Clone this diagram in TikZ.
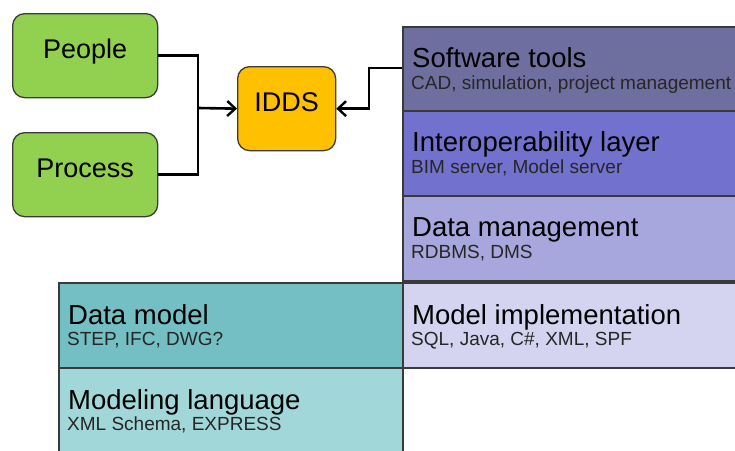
\documentclass[tikz,border=0pt]{standalone}
\usepackage{fontspec}
\setmainfont{Liberation Sans}
\usetikzlibrary{arrows.meta,calc}

\definecolor{greenbox}{HTML}{92D050}
\definecolor{orangebox}{HTML}{FFC000}
\definecolor{edge}{HTML}{3A3A3A}
\definecolor{toolsfill}{HTML}{6F6F9F}
\definecolor{interopfill}{HTML}{7272CE}
\definecolor{datamgmtfill}{HTML}{A7A7DE}
\definecolor{implfill}{HTML}{D4D4F1}
\definecolor{datamodelfill}{HTML}{73BFC4}
\definecolor{langfill}{HTML}{A2D7D9}

\tikzset{
  rbox/.style={draw=edge, line width=1.3pt, rounded corners=12pt,
    minimum width=145pt, minimum height=84pt, anchor=north west,
    inner sep=0pt, text height=19pt, text depth=14pt,
    font=\fontsize{27}{30}\selectfont},
  layer/.style={draw=edge, line width=1.6pt, anchor=north west,
    inner sep=0pt, minimum height=85pt},
  title/.style={anchor=base west, inner sep=0pt, font=\fontsize{27.5}{30}\selectfont},
  sub/.style={anchor=base west, inner sep=0pt, text=black!85, font=\fontsize{19}{22}\selectfont},
  conn/.style={line width=2.6pt, black},
  arr/.style={conn, -{Straight Barb[length=8pt,width=15pt,line width=2.4pt]}}
}

\begin{document}
\begin{tikzpicture}[x=1pt,y=-1pt]
  \useasboundingbox (0,0) rectangle (735,450);
  \clip (0,0) rectangle (735,450);

  % input boxes and the central system
  \node[rbox, fill=greenbox] (people) at (12,13) {People};
  \node[rbox, fill=greenbox] (process) at (12,132) {Process};
  \node[rbox, fill=orangebox, minimum width=98pt] (idds) at (237,66) {IDDS};

  % layer stack on the right
  \node[layer, fill=toolsfill, minimum width=345pt] (tools) at (402,26) {};
  \node[layer, fill=interopfill, minimum width=345pt] (interop) at (402,110) {};
  \node[layer, fill=datamgmtfill, minimum width=345pt] (datamgmt) at (402,195) {};
  \node[layer, fill=implfill, minimum width=345pt] (impl) at (402,282) {};

  % layer stack on the left
  \node[layer, fill=datamodelfill, minimum width=344pt] (datamodel) at (58,282) {};
  \node[layer, fill=langfill, minimum width=344pt, minimum height=95pt] (lang) at (58,367) {};

  % layer captions
  \node[title] (t1) at ($(tools.north west)+(10,41)$) {Software tools};
  \node[sub]   (s1) at ($(tools.north west)+(9,63)$) {CAD, simulation, project management};
  \node[title] (t2) at ($(interop.north west)+(10,41)$) {Interoperability layer};
  \node[sub]   (s2) at ($(interop.north west)+(9,63)$) {BIM server, Model server};
  \node[title] (t3) at ($(datamgmt.north west)+(10,41)$) {Data management};
  \node[sub]   (s3) at ($(datamgmt.north west)+(9,63)$) {RDBMS, DMS};
  \node[title] (t4) at ($(impl.north west)+(10,42)$) {Model implementation};
  \node[sub]   (s4) at ($(impl.north west)+(9,63)$) {SQL, Java, C\#, XML, SPF};
  \node[title] (t5) at ($(datamodel.north west)+(10,42)$) {Data model};
  \node[sub]   (s5) at ($(datamodel.north west)+(9,63)$) {STEP, IFC, DWG?};
  \node[title] (t6) at ($(lang.north west)+(10,42)$) {Modeling language};
  \node[sub]   (s6) at ($(lang.north west)+(9,63)$) {XML Schema, EXPRESS};

  % connectors
  \coordinate (join) at (198,108);
  \draw[conn] (people.east) -| (join) |- (process.east);
  \draw[arr] (join) -- (idds.west);
  \coordinate (toolsout) at (402,68);
  \draw[arr] (toolsout) -- (369,68) |- (idds.east);
\end{tikzpicture}
\end{document}
